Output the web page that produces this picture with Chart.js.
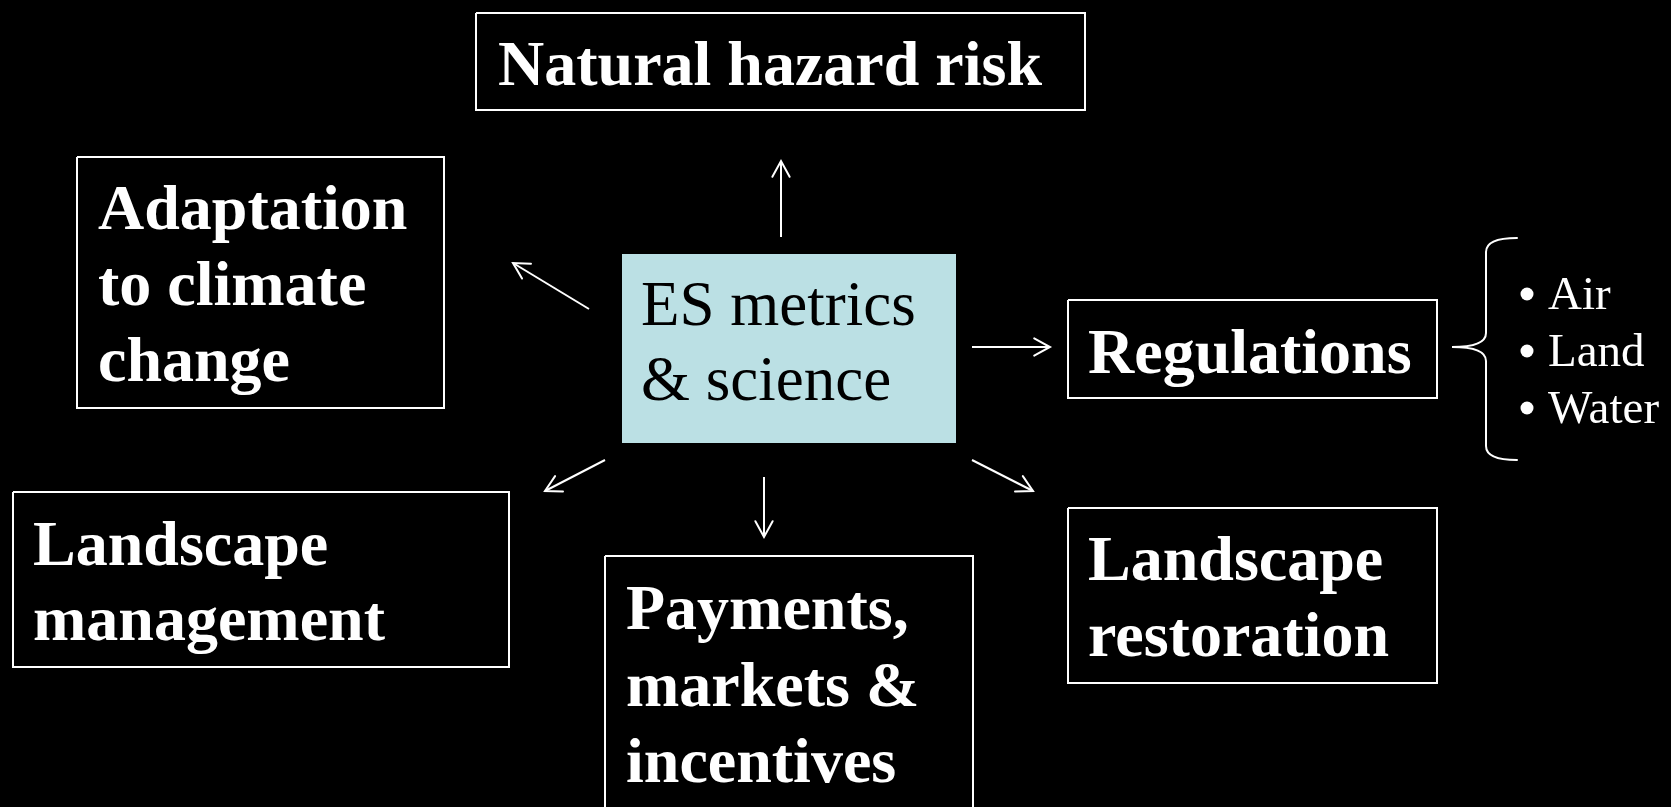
<!DOCTYPE html>
<html>
<head>
<meta charset="utf-8">
<script src="https://cdn.jsdelivr.net/npm/chart.js@4.4.1/dist/chart.umd.min.js"></script>
<style>
  html, body { margin: 0; padding: 0; background: #000; overflow: hidden; }
  #wrap { width: 1671px; height: 807px; }
</style>
</head>
<body>
<div id="wrap"><canvas id="c" width="1671" height="807"></canvas></div>
<script>
// diagram in a 1671 x 807 data space (y grows downward)
const boxNames   = ["Natural hazard risk", "Adaptation to climate change", "ES metrics & science",
                    "Regulations", "Landscape management", "Payments, markets & incentives", "Landscape restoration"];
const boxLines   = [["Natural hazard risk"], ["Adaptation", "to climate", "change"], ["ES metrics", "& science"],
                    ["Regulations"], ["Landscape", "management"], ["Payments,", "markets &", "incentives"],
                    ["Landscape", "restoration"]];
const boxLeft    = [476, 77, 622, 1068, 13, 605, 1068];
const boxRight   = [1085, 444, 956, 1437, 509, 973, 1437];
const boxTop     = [13, 157, 254, 300, 492, 556, 508];
const boxBottom  = [110, 408, 443, 398, 667, 840, 683];
const textLeft   = [498, 98, 641, 1088, 33, 626, 1088];
const firstLine  = [85, 229, 325, 373, 565, 629, 580];
const lineStep   = [0, 76, 75, 0, 75, 76.5, 76];

// arrows from the centre box
const arrowFrom = [[781, 237], [589, 309], [972, 347], [605, 460], [764, 477], [972, 460]];
const arrowTo   = [[781, 161], [513, 263], [1050, 347], [545, 491], [764, 537], [1033, 491]];

// brace and bullet list beside "Regulations"
const braceTip = [1452, 347], braceX = 1486, braceEnd = 1517, braceTop = 238, braceBottom = 460;
const bullets    = ["Air", "Land", "Water"];
const bulletBase = [309, 366, 423];
const bulletX = 1527, bulletTextX = 1548;

const WHITE = "#ffffff", CORE = "#bbe0e4";

const datasets = [];
boxNames.forEach((n, i) => {
  const core = i === 2;
  datasets.push({
    label: n,
    data: [
      { x: boxLeft[i], y: boxTop[i] }, { x: boxRight[i], y: boxTop[i] },
      { x: boxRight[i], y: boxBottom[i] }, { x: boxLeft[i], y: boxBottom[i] },
      { x: boxLeft[i], y: boxTop[i] }
    ],
    showLine: true, pointRadius: 0, tension: 0,
    borderColor: core ? CORE : WHITE, borderWidth: core ? 0 : 2,
    backgroundColor: core ? CORE : "transparent",
    fill: core ? "shape" : false
  });
});
arrowFrom.forEach((p, i) => {
  datasets.push({
    label: "arrow" + i,
    data: [{ x: p[0], y: p[1] }, { x: arrowTo[i][0], y: arrowTo[i][1] }],
    showLine: true, pointRadius: 0, borderColor: WHITE, borderWidth: 2, fill: false
  });
});

const overlay = {
  id: "overlay",
  beforeDraw(chart) {
    const c = chart.ctx;
    c.save(); c.fillStyle = "#000"; c.fillRect(0, 0, chart.width, chart.height); c.restore();
  },
  afterDatasetsDraw(chart) {
    const c = chart.ctx, sx = chart.scales.x, sy = chart.scales.y;
    const X = v => sx.getPixelForValue(v), Y = v => sy.getPixelForValue(v);
    c.save();

    // arrowheads (open chevrons)
    c.strokeStyle = WHITE; c.lineWidth = 2; c.lineCap = "round";
    arrowFrom.forEach((p, i) => {
      const x1 = X(arrowTo[i][0]), y1 = Y(arrowTo[i][1]);
      const a = Math.atan2(y1 - Y(p[1]), x1 - X(p[0]));
      const len = 18, spread = 0.5;
      c.beginPath();
      c.moveTo(x1 - len * Math.cos(a - spread), y1 - len * Math.sin(a - spread));
      c.lineTo(x1, y1);
      c.lineTo(x1 - len * Math.cos(a + spread), y1 - len * Math.sin(a + spread));
      c.stroke();
    });

    // brace
    const bx = X(braceX), be = X(braceEnd), tx = X(braceTip[0]), ty = Y(braceTip[1]);
    const t = Y(braceTop), b = Y(braceBottom);
    c.beginPath();
    c.moveTo(be, t);
    c.quadraticCurveTo(bx, t, bx, t + 14);
    c.lineTo(bx, ty - 14);
    c.quadraticCurveTo(bx, ty, tx, ty);
    c.quadraticCurveTo(bx, ty, bx, ty + 14);
    c.lineTo(bx, b - 14);
    c.quadraticCurveTo(bx, b, be, b);
    c.stroke();

    // box labels
    c.textBaseline = "alphabetic"; c.textAlign = "left";
    boxLines.forEach((lines, i) => {
      const core = i === 2;
      c.fillStyle = core ? "#000" : WHITE;
      c.font = core ? "63px 'Liberation Serif', 'Times New Roman', serif"
                    : "bold 64px 'Liberation Serif', 'Times New Roman', serif";
      lines.forEach((s, k) => c.fillText(s, X(textLeft[i]), Y(firstLine[i] + k * lineStep[i])));
    });

    // bullets
    c.fillStyle = WHITE;
    c.font = "47px 'Liberation Serif', 'Times New Roman', serif";
    bullets.forEach((s, k) => {
      c.beginPath();
      c.arc(X(bulletX), Y(bulletBase[k] - 15), 6.5, 0, Math.PI * 2);
      c.fill();
      c.fillText(s, X(bulletTextX), Y(bulletBase[k]));
    });
    c.restore();
  }
};

new Chart(document.getElementById("c"), {
  type: "scatter",
  data: { datasets },
  options: {
    responsive: false, animation: false,
    layout: { padding: 0 },
    plugins: { legend: { display: false }, tooltip: { enabled: false } },
    scales: {
      x: { type: "linear", min: 0, max: 1671, display: false },
      y: { type: "linear", min: 0, max: 807, reverse: true, display: false }
    }
  },
  plugins: [overlay]
});
</script>
</body>
</html>
